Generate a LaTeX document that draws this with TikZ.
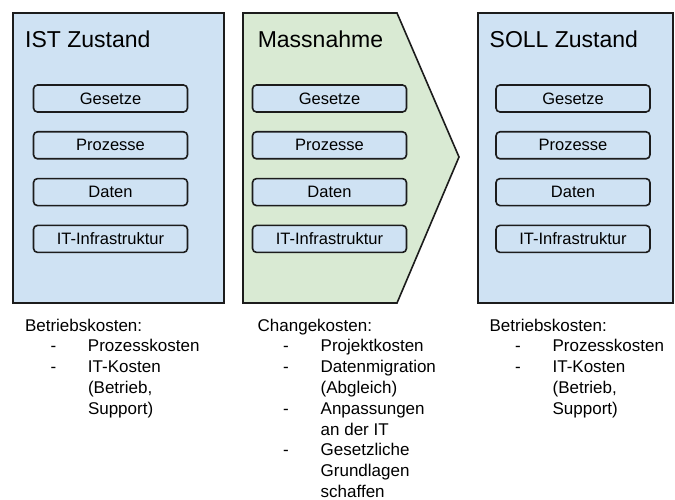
\documentclass[tikz,border=0pt]{standalone}
\usepackage{fontspec}
\setmainfont{Liberation Sans}
\usepackage{xcolor}
\usepackage{tikz}
\usetikzlibrary{positioning}
\definecolor{stateblue}{HTML}{CFE2F3}
\definecolor{measuregreen}{HTML}{D9EAD3}
\definecolor{framegray}{HTML}{1C1C1C}
\newcommand{\costtable}[1]{\begin{tabular}[t]{@{}p{25.5pt}@{}p{37.5pt}@{}l@{}}#1\end{tabular}}

\begin{document}
\begin{tikzpicture}[x=1pt, y=-1pt,
    frame/.style={draw=framegray, line width=1.6pt, line join=miter},
    field/.style={rectangle, rounded corners=4pt, draw=framegray, line width=1.6pt, fill=stateblue, minimum width=154pt, minimum height=27pt, inner sep=0pt, font=\fontsize{16.5}{20}\selectfont},
    title/.style={anchor=base west, inner sep=0pt, font=\fontsize{23}{28}\selectfont},
    costs/.style={anchor=base west, inner sep=0pt, font=\fontsize{17}{20.8}\selectfont}
]
\useasboundingbox (0,0) rectangle (675,500);

% state and measure frames
\node[frame, rectangle, fill=stateblue, minimum width=211pt, minimum height=290pt] (ist) at (118.5,158) {};
\draw[frame, fill=measuregreen] (243,13) coordinate (massnahme) -- (397,13) -- (459,157) coordinate (tip) -- (397,303) -- (243,303) -- cycle;
\node[frame, rectangle, fill=stateblue, minimum width=195pt, minimum height=290pt] (soll) at (575.5,158) {};

\node[title] (istTitle) at (25,48) {IST Zustand};
\node[title] (massTitle) at (257.6,48) {Massnahme};
\node[title] (sollTitle) at (489.5,48) {SOLL Zustand};

\foreach \name/\txt [count=\i from 0] in {gesetze/Gesetze, prozesse/Prozesse, daten/Daten, infra/IT-Infrastruktur} {
    \node[field] (ist-\name) at (110.5,98.5+46.8*\i) {\txt};
    \node[field] (mass-\name) at (329.5,98.5+46.8*\i) {\txt};
    \node[field] (soll-\name) at (573,98.5+46.8*\i) {\txt};
}

% cost lists
\node[costs] (istCosts) at (24.8,331) {\costtable{\multicolumn{3}{@{}l@{}}{Betriebskosten:}\\
    & - & Prozesskosten\\
    & - & IT-Kosten\\
    & & (Betrieb,\\
    & & Support)}};
\node[costs] (massCosts) at (257.5,331) {\costtable{\multicolumn{3}{@{}l@{}}{Changekosten:}\\
    & - & Projektkosten\\
    & - & Datenmigration\\
    & & (Abgleich)\\
    & - & Anpassungen\\
    & & an der IT\\
    & - & Gesetzliche\\
    & & Grundlagen\\
    & & schaffen}};
\node[costs] (sollCosts) at (489.4,331) {\costtable{\multicolumn{3}{@{}l@{}}{Betriebskosten:}\\
    & - & Prozesskosten\\
    & - & IT-Kosten\\
    & & (Betrieb,\\
    & & Support)}};

\end{tikzpicture}
\end{document}
